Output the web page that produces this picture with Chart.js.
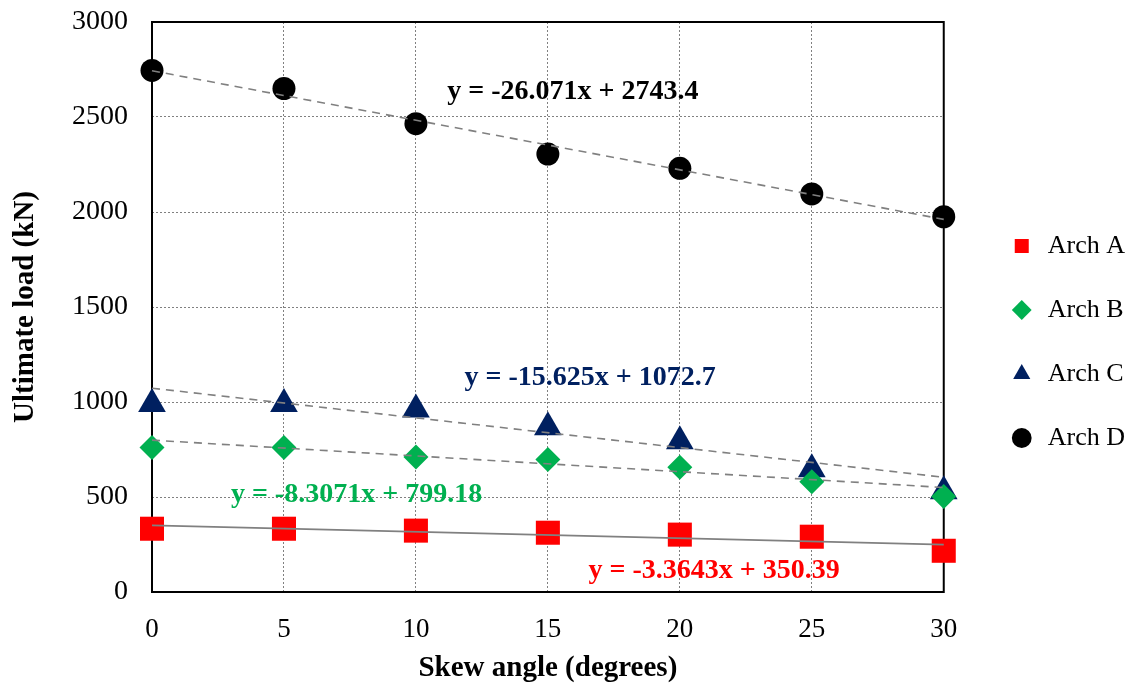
<!DOCTYPE html>
<html>
<head>
<meta charset="utf-8">
<script src="https://cdn.jsdelivr.net/npm/chart.js@4.4.0/dist/chart.umd.min.js"></script>
<style>
  html, body { margin: 0; padding: 0; background: #fff; }
  #wrap { width: 1145px; height: 686px; }
</style>
</head>
<body>
<div id="wrap"><canvas id="c" width="1145" height="686"></canvas></div>
<script>
// ---- data ----
const skewAngles = [0, 5, 10, 15, 20, 25, 30];
const archA = [333, 333, 323, 312, 302, 291, 217];
const archB = [761, 761, 710, 698, 656, 580, 502];
const archC = [990, 990, 961, 867, 793, 646, 530];
const archD = [2745, 2650, 2465, 2305, 2230, 2095, 1975];
const seriesNames = ['Arch A', 'Arch B', 'Arch C', 'Arch D'];
// linear trendline end values at x = 0 and x = 30
const trendX = [0, 30];
const trendA = [350.4, 249.5];
const trendB = [799.2, 550.0];
const trendC = [1072.7, 603.9];
const trendD = [2743.4, 1961.3];
const equationTexts = ['y = -3.3643x + 350.39', 'y = -8.3071x + 799.18', 'y = -15.625x + 1072.7', 'y = -26.071x + 2743.4'];
const yTicks = [0, 500, 1000, 1500, 2000, 2500, 3000];
const xTicks = [0, 5, 10, 15, 20, 25, 30];

// ---- styling ----
const SERIF = '"Liberation Serif", "Times New Roman", Times, serif';
const colors = ['#FF0000', '#00B050', '#002060', '#000000'];
const markers = ['rect', 'rectRot', 'triangle', 'circle'];
const markerRadius = [17, 12.5, 16, 11.5];
const eqPos = [ {x: 21.3, y: 112}, {x: 7.75, y: 510}, {x: 16.6, y: 1126}, {x: 15.95, y: 2632} ];

const pts = (xs, ys) => xs.map((x, i) => ({x: x, y: ys[i]}));
const seriesVals = [archA, archB, archC, archD];
const trendVals = [trendA, trendB, trendC, trendD];

const datasets = [];
trendVals.forEach((t, i) => {
  datasets.push({
    label: 'trend' + i,
    data: pts(trendX, t),
    showLine: true,
    borderColor: '#808080',
    borderWidth: 1.6,
    borderDash: i === 0 ? [] : [8, 6],
    pointRadius: 0,
    pointHoverRadius: 0,
    fill: false,
    order: 0,
    clip: false
  });
});
seriesVals.forEach((v, i) => {
  datasets.push({
    label: seriesNames[i],
    data: pts(skewAngles, v),
    showLine: false,
    pointStyle: markers[i],
    pointRadius: markerRadius[i],
    pointHoverRadius: markerRadius[i],
    backgroundColor: colors[i],
    borderColor: colors[i],
    pointBorderWidth: 0,
    borderWidth: 0,
    order: 1,
    clip: false
  });
});

const framePlugin = {
  id: 'frame',
  beforeDatasetsDraw(chart) {
    const a = chart.chartArea, ctx = chart.ctx;
    ctx.save();
    ctx.strokeStyle = '#000';
    ctx.lineWidth = 2;
    ctx.strokeRect(a.left, a.top, a.right - a.left, a.bottom - a.top);
    ctx.restore();
  },
  afterDatasetsDraw(chart) {
    const ctx = chart.ctx, xs = chart.scales.x, ys = chart.scales.y;
    ctx.save();
    ctx.font = 'bold 28px ' + SERIF;
    ctx.textAlign = 'center';
    ctx.textBaseline = 'middle';
    equationTexts.forEach((t, i) => {
      ctx.fillStyle = colors[i];
      ctx.fillText(t, xs.getPixelForValue(eqPos[i].x), ys.getPixelForValue(eqPos[i].y));
    });
    ctx.restore();
  }
};

Chart.defaults.color = '#000';
Chart.defaults.font.family = SERIF;

const noPad = (s) => { s.paddingTop = 0; s.paddingBottom = 0; s.paddingLeft = 0; s.paddingRight = 0; };

new Chart(document.getElementById('c'), {
  type: 'scatter',
  data: { datasets: datasets },
  plugins: [framePlugin],
  options: {
    responsive: false,
    animation: false,
    events: [],
    layout: { padding: { top: 22, left: 0, right: 10, bottom: 24 } },
    plugins: {
      tooltip: { enabled: false },
      legend: {
        position: 'right',
        labels: {
          usePointStyle: true,
          boxHeight: 14,
          padding: 38,
          color: '#000',
          font: { family: SERIF, size: 26 },
          filter: (item) => item.text.indexOf('Arch') === 0,
          sort: (a, b) => a.text.localeCompare(b.text)
        }
      }
    },
    scales: {
      x: {
        type: 'linear',
        min: 0, max: 30,
        afterBuildTicks: (s) => { s.ticks = xTicks.map(v => ({value: v})); },
        grid: { color: '#808080', lineWidth: 1, drawTicks: false },
        border: { display: false, dash: [2, 2] },
        ticks: { font: { family: SERIF, size: 27 }, color: '#000', padding: 22, maxRotation: 0, callback: (v) => String(v) },
        title: { display: true, text: 'Skew angle (degrees)', font: { family: SERIF, size: 29, weight: 'bold' }, color: '#000', padding: { top: 0, bottom: -24 } },
        afterFit: (s) => { noPad(s); s.height = 70; }
      },
      y: {
        type: 'linear',
        min: 0, max: 3000,
        afterBuildTicks: (s) => { s.ticks = yTicks.map(v => ({value: v})); },
        grid: { color: '#808080', lineWidth: 1, drawTicks: false },
        border: { display: false, dash: [2, 2] },
        ticks: { font: { family: SERIF, size: 28 }, color: '#000', padding: 24, callback: (v) => String(v) },
        title: { display: true, text: 'Ultimate load (kN)', font: { family: SERIF, size: 29, weight: 'bold' }, color: '#000', padding: { top: 8, bottom: 0 } },
        afterFit: (s) => { noPad(s); s.width = 152; }
      },
      spacer: {
        type: 'linear',
        position: 'right',
        display: true,
        grid: { display: false, drawTicks: false },
        border: { display: false },
        ticks: { display: false },
        afterFit: (s) => { noPad(s); s.width = 27; }
      }
    }
  }
});
</script>
</body>
</html>
